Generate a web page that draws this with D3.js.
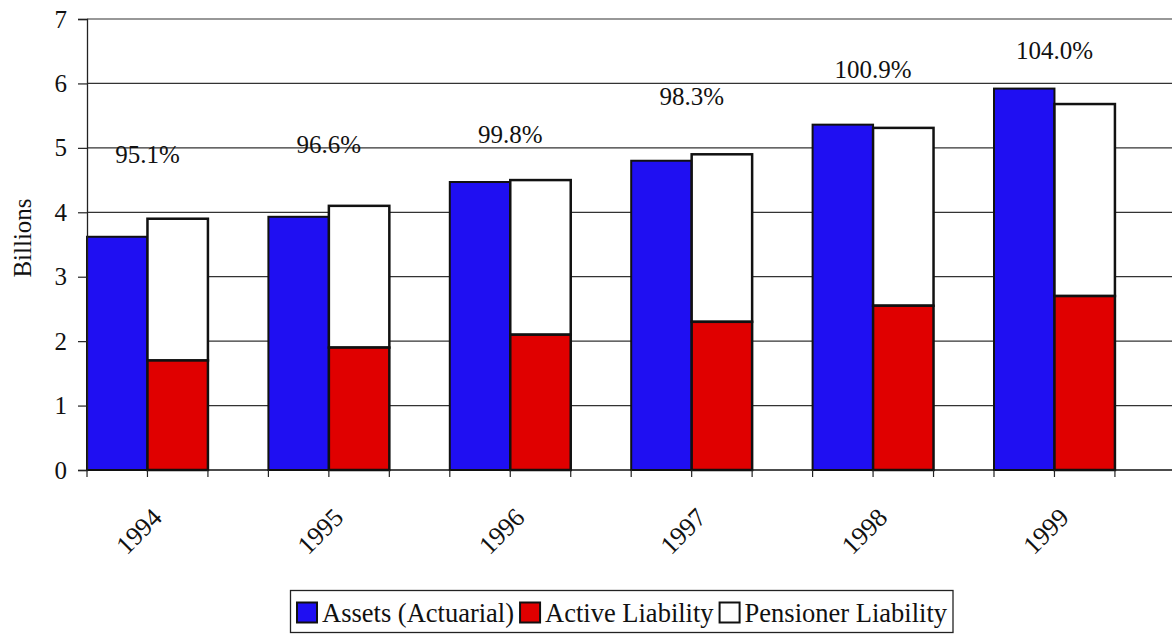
<!DOCTYPE html>
<html>
<head>
<meta charset="utf-8">
<title>Assets vs Liabilities</title>
<script src="https://d3js.org/d3.v7.min.js"></script>
<style>
  body { margin: 0; background: #fff; }
  svg text { font-family: "Liberation Serif", serif !important; fill: #111; }
  .grid line { stroke: #333; stroke-width: 1.2px; }
</style>
</head>
<body>
<div id="chart"></div>
<script>
// data
var years = ["1994", "1995", "1996", "1997", "1998", "1999"];
var assets = [3.62, 3.93, 4.47, 4.80, 5.36, 5.92];
var activeLiab = [1.70, 1.90, 2.10, 2.30, 2.55, 2.70];
var pensionerLiab = [2.20, 2.20, 2.40, 2.60, 2.76, 2.98];
var fundedRatio = ["95.1%", "96.6%", "99.8%", "98.3%", "100.9%", "104.0%"];
var ratioLabelAt = [4.76, 4.92, 5.08, 5.67, 6.08, 6.38];
var yTicks = [0, 1, 2, 3, 4, 5, 6, 7];
var seriesNames = ["Assets (Actuarial)", "Active Liability", "Pensioner Liability"];
var seriesColors = ["#1f0ff2", "#e00000", "#ffffff"];

var W = 1172, H = 634;
var plotLeft = 87, plotTop = 19, plotBottom = 470;
var step = 181.4;

var svg = d3.select("#chart").append("svg")
  .attr("width", W).attr("height", H);

var x0 = d3.scaleBand().domain(years).range([plotLeft, plotLeft + step * years.length]).padding(0);
var x1 = d3.scaleBand().domain(["assets", "liab"]).range([0, x0.bandwidth() * 2 / 3]).padding(0);
var y = d3.scaleLinear().domain([0, 7]).range([plotBottom, plotTop]);

// gridlines
svg.append("g").attr("class", "grid")
  .selectAll("line").data(yTicks.filter(function(d){ return d > 0; })).enter()
  .append("line")
  .attr("x1", plotLeft).attr("x2", W)
  .attr("y1", function(d){ return y(d); })
  .attr("y2", function(d){ return y(d); });

var rows = years.map(function(yr, i){
  return {year: yr, assets: assets[i], active: activeLiab[i], pens: pensionerLiab[i]};
});

var g = svg.selectAll(".yr").data(rows).enter().append("g")
  .attr("transform", function(d){ return "translate(" + x0(d.year) + ",0)"; });

g.append("rect")
  .attr("x", x1("assets"))
  .attr("width", x1.bandwidth())
  .attr("y", function(d){ return y(d.assets); })
  .attr("height", function(d){ return y(0) - y(d.assets); })
  .attr("fill", seriesColors[0])
  .attr("stroke", "#111").attr("stroke-width", 2);

g.append("rect")
  .attr("x", x1("liab"))
  .attr("width", x1.bandwidth())
  .attr("y", function(d){ return y(d.active + d.pens); })
  .attr("height", function(d){ return y(d.active) - y(d.active + d.pens); })
  .attr("fill", seriesColors[2])
  .attr("stroke", "#111").attr("stroke-width", 2.5);

g.append("rect")
  .attr("x", x1("liab"))
  .attr("width", x1.bandwidth())
  .attr("y", function(d){ return y(d.active); })
  .attr("height", function(d){ return y(0) - y(d.active); })
  .attr("fill", seriesColors[1])
  .attr("stroke", "#111").attr("stroke-width", 2.5);

// y axis
var yAxis = svg.append("g")
  .attr("transform", "translate(" + plotLeft + ",0)")
  .call(d3.axisLeft(y).tickValues(yTicks).tickSize(9).tickPadding(11).tickFormat(d3.format("d")));
yAxis.select(".domain").attr("stroke", "#222").attr("stroke-width", 1.3);
yAxis.selectAll(".tick line").attr("stroke", "#222").attr("stroke-width", 1.2);
yAxis.selectAll("text").attr("font-size", 25);

// x axis line and ticks at bar edges
svg.append("line")
  .attr("x1", plotLeft).attr("x2", W)
  .attr("y1", y(0)).attr("y2", y(0))
  .attr("stroke", "#111").attr("stroke-width", 1.5);

var edges = [];
years.forEach(function(yr){
  edges.push(x0(yr), x0(yr) + x1("liab"), x0(yr) + x1("liab") + x1.bandwidth());
});
svg.selectAll(".xt").data(edges).enter().append("line")
  .attr("x1", function(d){ return d; }).attr("x2", function(d){ return d; })
  .attr("y1", y(0)).attr("y2", y(0) + 7)
  .attr("stroke", "#222").attr("stroke-width", 1.2);

svg.selectAll(".xl").data(years).enter().append("text")
  .attr("transform", function(d){
    var cx = x0(d) + x1("liab") + 16;
    return "translate(" + cx + "," + (y(0) + 49) + ") rotate(-45)";
  })
  .attr("text-anchor", "end")
  .attr("font-size", 26)
  .text(function(d){ return d; });

// funded ratio labels
svg.selectAll(".pct").data(years).enter().append("text")
  .attr("x", function(d){ return x0(d) + x1("liab"); })
  .attr("y", function(d, i){ return y(ratioLabelAt[i]); })
  .attr("text-anchor", "middle")
  .attr("font-size", 25)
  .text(function(d, i){ return fundedRatio[i]; });

// y title
svg.append("text")
  .attr("transform", "translate(31," + 238 + ") rotate(-90)")
  .attr("text-anchor", "middle")
  .attr("font-size", 25)
  .text("Billions");

// legend
var leg = svg.append("g");
var legBox = leg.append("rect")
  .attr("y", 590.5).attr("height", 42)
  .attr("fill", "#fff").attr("stroke", "#222").attr("stroke-width", 1.3);
var lx = 297;
seriesNames.forEach(function(name, i){
  leg.append("rect")
    .attr("x", lx).attr("y", 602.5).attr("width", 20).attr("height", 20)
    .attr("fill", seriesColors[i]).attr("stroke", "#111").attr("stroke-width", 2);
  var t = leg.append("text")
    .attr("x", lx + 25).attr("y", 622)
    .attr("font-size", 26.5)
    .text(name);
  lx += 25 + t.node().getComputedTextLength() + 6;
});
legBox.attr("x", 290.5).attr("width", lx - 290.5);
</script>
</body>
</html>
